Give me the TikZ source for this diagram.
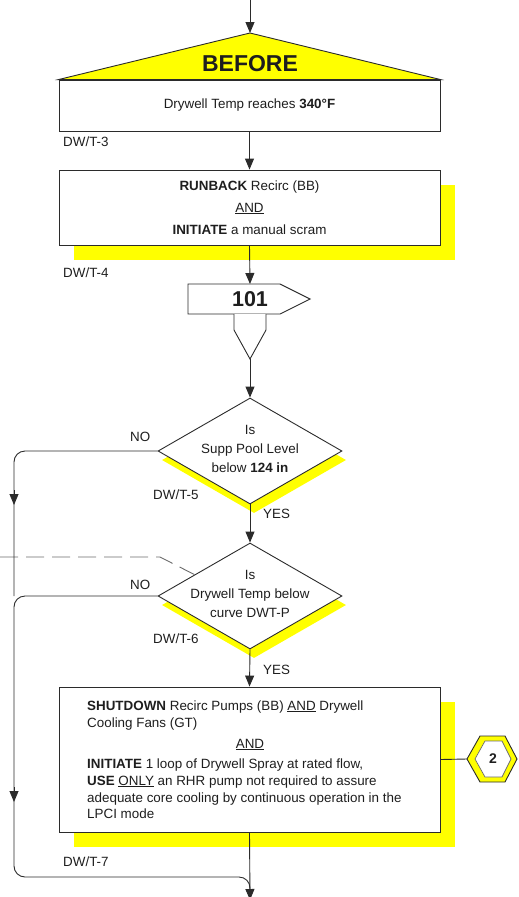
\documentclass[tikz,border=0pt]{standalone}
\usepackage{fontspec}
\setmainfont{Liberation Sans}
\usetikzlibrary{arrows.meta,shapes.geometric,calc}
\definecolor{ink}{HTML}{1E1E1E}
\definecolor{wire}{HTML}{2B2B2B}
\definecolor{hilite}{HTML}{FFFF00}
\newcommand{\bodyfont}{\fontsize{13.4}{16.8}\selectfont}
\begin{document}
\begin{tikzpicture}[x=1pt,y=-1pt,
  font=\bodyfont, text=ink,
  flow/.style={draw=wire, line width=0.9pt},
  tip/.style={-{Triangle[length=11pt,width=9pt]}},
  stepbox/.style={rectangle, draw=wire, line width=0.9pt, fill=white, inner sep=0pt, minimum width=381pt},
  shadowbox/.style={rectangle, fill=hilite, inner sep=0pt, minimum width=381pt},
  decision/.style={diamond, draw=wire, line width=0.9pt, fill=white, inner sep=0pt, minimum width=184pt, minimum height=106pt},
  decshadow/.style={diamond, fill=hilite, inner sep=0pt, minimum width=184pt, minimum height=106pt},
  tag/.style={anchor=west, inner sep=0pt},
  line/.style={anchor=base west, inner sep=0pt},
]
\useasboundingbox (0,0) rectangle (519,897);
\clip (0,0) rectangle (519,897);

% entry and BEFORE cap
\coordinate (entry) at (250,0);
\node[stepbox, minimum height=51pt] (b1) at (249.5,105.5) {Drywell Temp reaches \textbf{340°F}};
\filldraw[fill=hilite, draw=wire, line width=0.9pt] (b1.north west) -- (250,33) coordinate (apex) -- (b1.north east) -- cycle;
\node[font=\fontsize{23}{23}\selectfont\bfseries, inner sep=0pt] (before) at (250,64) {BEFORE};
\draw[flow,tip] (entry) -- (apex);
\node[tag] (lab3) at (63,142) {DW/T-3};

% runback / scram step
\node[shadowbox, minimum height=75pt] (b2s) at (264.5,222.5) {};
\node[stepbox, minimum height=75pt, align=center] (b2) at (249.5,207.5)
  {\textbf{RUNBACK} Recirc (BB)\\[5pt]\underline{AND}\\[5pt]\textbf{INITIATE} a manual scram};
\draw[flow,tip] (b1.south) -- (b2.north);
\node[tag] (lab4) at (63,273) {DW/T-4};

% off-page pointer 101
\coordinate (phead) at (250,284);
\draw[flow, fill=white] (188,284) -- (280,284) -- (310,299) -- (280,314) -- (188,314) -- cycle;
\draw[flow, fill=white] (234,314) -- (234,330) -- (250,359) coordinate (ptail) -- (266,330) -- (266,314);
\node[font=\fontsize{21.5}{21.5}\selectfont\bfseries, inner sep=0pt] (p101) at (250,299) {101};
\draw[flow,tip] (b2.south) -- (phead);

% decision: suppression pool level
\node[decshadow] (d1s) at (254,460) {};
\node[decision] (d1) at (250,451) {};
\node[align=center, inner sep=0pt] (d1t) at (250,449) {Is\\[2pt]Supp Pool Level\\[2pt]below \textbf{124 in}};
\draw[flow,tip] (ptail) -- (d1.north);
\node[tag] (no1) at (130,437) {NO};
\node[tag] (lab5) at (153,495) {DW/T-5};
\node[tag] (yes1) at (263,514) {YES};

% decision: drywell temperature curve
\node[decshadow] (d2s) at (254,605) {};
\node[decision] (d2) at (250,596) {};
\node[align=center, inner sep=0pt] (d2t) at (250,594) {Is\\[2pt]Drywell Temp below\\[2pt]curve DWT-P};
\draw[flow,tip] (d1.south) -- (d2.north);
\node[tag] (no2) at (130,585) {NO};
\node[tag] (lab6) at (153,639) {DW/T-6};
\node[tag] (yes2) at (263,670) {YES};

% dashed tie-in
\coordinate (dashL) at (0,557);
\coordinate (dashK) at (160,557);
\draw[draw=wire!70, line width=0.9pt, dash pattern=on 18pt off 8pt] (dashL) -- (dashK) -- ($(d2.west)!0.4!(d2.north)$);

% shutdown / drywell spray step
\node[shadowbox, minimum height=145pt] (b3s) at (264.5,774.5) {};
\node[stepbox, minimum height=145pt] (b3) at (249.5,759.5) {};
\draw[flow,tip] (d2.south) -- (b3.north);
\node[line] (s1) at (87,710) {\textbf{SHUTDOWN} Recirc Pumps (BB) \underline{AND} Drywell};
\node[line] (s2) at (87,727) {Cooling Fans (GT)};
\node[anchor=base, inner sep=0pt] (s3) at (250,748) {\underline{AND}};
\node[line] (s4) at (87,768) {\textbf{INITIATE} 1 loop of Drywell Spray at rated flow,};
\node[line] (s5) at (87,785) {\textbf{USE} \underline{ONLY} an RHR pump not required to assure};
\node[line] (s6) at (87,802) {adequate core cooling by continuous operation in the};
\node[line] (s7) at (87,818) {LPCI mode};
\node[tag] (lab7) at (63,862) {DW/T-7};

% hexagon marker 2
\coordinate (hexL) at (467,759);
\filldraw[fill=hilite, draw=wire, line width=0.9pt] (hexL) -- (480,736) -- (505,736) -- (517,759) -- (505,782) -- (480,782) -- cycle;
\filldraw[fill=white, draw=wire!70, line width=0.7pt] (475,759) -- (485,741) -- (502,741) -- (511,759) -- (502,777) -- (485,777) -- cycle;
\node[font=\fontsize{14}{14}\selectfont\bfseries, inner sep=0pt] (hexnum) at (493,759) {2};
\draw[flow] (b3.east) -- (hexL);

% NO branches down the left rail
\coordinate (r1) at (14,451);
\coordinate (r1t) at (14,490);
\coordinate (r1a) at (14,505);
\coordinate (r2) at (14,596);
\coordinate (r2t) at (14,787);
\coordinate (r2a) at (14,802);
\coordinate (r3) at (14,877);
\coordinate (r4) at (250,877);
\coordinate (exit) at (250,900);
\draw[flow,rounded corners=11pt] (d1.west) -- (r1) -- (r2);
\draw[flow,tip] (r1t) -- (r1a);
\draw[flow,rounded corners=11pt] (d2.west) -- (r2) -- (r3) -- (r4) -- (exit);
\draw[flow,tip] (r2t) -- (r2a);
\draw[flow,tip] (b3.south) -- (exit);
\end{tikzpicture}
\end{document}
